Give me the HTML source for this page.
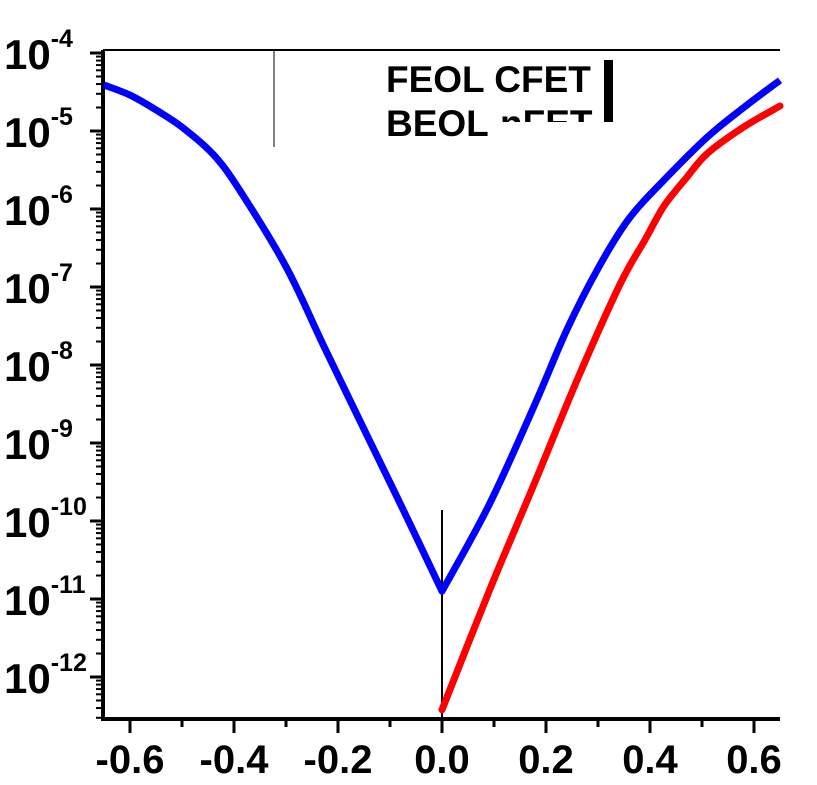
<!DOCTYPE html>
<html><head><meta charset="utf-8"><style>
html,body{margin:0;padding:0;background:#fff;}
svg{display:block;font-family:"Liberation Sans",Arial,sans-serif;font-weight:bold;}
</style></head><body>
<svg id="chart" width="817" height="785" viewBox="0 0 817 785">
<defs><clipPath id="nclip"><rect x="495" y="100" width="120" height="22"/></clipPath></defs>
<g id="axes"></g>
<g id="series"></g>
<g id="legend">
  <line x1="274" y1="50" x2="274" y2="147" stroke="#000" stroke-width="1"/>
  <text x="386" y="92" font-size="37">FEOL CFET</text>
  <text x="386" y="136" font-size="37">BEOL</text>
  <text x="500" y="136" font-size="37" clip-path="url(#nclip)">nFET</text>
  <rect x="604" y="60" width="9" height="62" fill="#000"/>
</g>
</svg>
<script>
const xTicks=[-0.6,-0.4,-0.2,0.0,0.2,0.4,0.6];
const xTickLabels=["-0.6","-0.4","-0.2","0.0","0.2","0.4","0.6"];
const yTicks=[-4,-5,-6,-7,-8,-9,-10,-11,-12];
const blueX=[-0.65,-0.6,-0.55,-0.5,-0.44,-0.39,-0.30,-0.225,-0.14,-0.07,0,0.09,0.177,0.24,0.302,0.36,0.427,0.51,0.58,0.65];
const blueY=[-4.41,-4.54,-4.73,-4.95,-5.30,-5.75,-6.74,-7.79,-8.96,-9.92,-10.9,-9.80,-8.53,-7.55,-6.74,-6.12,-5.63,-5.08,-4.70,-4.35];
const redX=[0,0.09,0.177,0.26,0.342,0.39,0.427,0.47,0.51,0.58,0.65];
const redY=[-12.42,-10.91,-9.53,-8.19,-6.97,-6.40,-5.96,-5.60,-5.29,-4.95,-4.68];

const NS="http://www.w3.org/2000/svg";
const L=103,R=780,T=50,B=719;
function sx(v){return 442+v*520;}
function sy(l){return 53-(l+4)*78;}
const axes=document.getElementById('axes');
const ser=document.getElementById('series');
function mk(tag,attrs,parent){const e=document.createElementNS(NS,tag);for(const k in attrs)e.setAttribute(k,attrs[k]);parent.appendChild(e);return e;}

let e;
e=mk('line',{x1:L,y1:T,x2:L,y2:B+1,stroke:'#000','stroke-width':4},axes);


e=mk('line',{x1:L-2,y1:B,x2:R,y2:B,stroke:'#000','stroke-width':4},axes);


e=mk('line',{x1:L,y1:T,x2:R,y2:T,stroke:'#000','stroke-width':2},axes);



xTicks.forEach((v,i)=>{
  const x=sx(v);
  e=mk('line',{x1:x,y1:B,x2:x,y2:B+14,stroke:'#000','stroke-width':3},axes);
  
  
  e=mk('text',{x:x,y:773,'font-size':40,'text-anchor':'middle'},axes);
  e.textContent=xTickLabels[i];
  
  
  if(i<xTicks.length-1){
    const xm=sx(v+0.1);
    e=mk('line',{x1:xm,y1:B,x2:xm,y2:B+8,stroke:'#000','stroke-width':3},axes);
    
    
  }
});
yTicks.forEach(l=>{
  const y=sy(l);
  e=mk('line',{x1:L-13,y1:y,x2:L,y2:y,stroke:'#000','stroke-width':3},axes);
  
  
  for(let m=2;m<=9;m++){
    const ym=sy(l+Math.log10(m));
    if(ym<T||ym>B)continue;
    e=mk('line',{x1:L-7,y1:ym,x2:L,y2:ym,stroke:'#000','stroke-width':2},axes);
    
    
  }
  e=mk('text',{x:4,y:y+16,'font-size':42},axes);
  
  
  const t1=mk('tspan',{},e);t1.textContent='10';
  const t2=mk('tspan',{dy:-22,'font-size':25},e);t2.textContent=String(l);
});
for(let m=2;m<=9;m++){
  const ym=sy(-13+Math.log10(m));
  if(ym<T||ym>B)continue;
  e=mk('line',{x1:L-7,y1:ym,x2:L,y2:ym,stroke:'#000','stroke-width':2},axes);
  
  
}

e=mk('line',{x1:sx(0),y1:510,x2:sx(0),y2:B,stroke:'#000','stroke-width':2},ser);



function smooth(xs,ys,breakAt){
  const p=xs.map((v,i)=>[sx(v),sy(ys[i])]);
  let d='M'+p[0][0].toFixed(1)+','+p[0][1].toFixed(1);
  for(let i=0;i<p.length-1;i++){
    const p0=p[Math.max(0,i-1)],p1=p[i],p2=p[i+1],p3=p[Math.min(p.length-1,i+2)];
    let a=p0,b=p3;
    if(breakAt!==undefined){ if(i===breakAt) a=p1; if(i+1===breakAt) b=p2; }
    const c1=[p1[0]+(p2[0]-a[0])/6,p1[1]+(p2[1]-a[1])/6];
    const c2=[p2[0]-(b[0]-p1[0])/6,p2[1]-(b[1]-p1[1])/6];
    d+=' C'+c1[0].toFixed(1)+','+c1[1].toFixed(1)+' '+c2[0].toFixed(1)+','+c2[1].toFixed(1)+' '+p2[0].toFixed(1)+','+p2[1].toFixed(1);
  }
  return d;
}
e=mk('path',{d:smooth(redX,redY),fill:'none',stroke:'#ff0000','stroke-width':7,'stroke-linejoin':'round','stroke-linecap':'round'},ser);


e=mk('path',{d:smooth(blueX,blueY,blueX.indexOf(0)),fill:'none',stroke:'#0000ff','stroke-width':7,'stroke-linejoin':'round'},ser);


</script>
</body></html>
